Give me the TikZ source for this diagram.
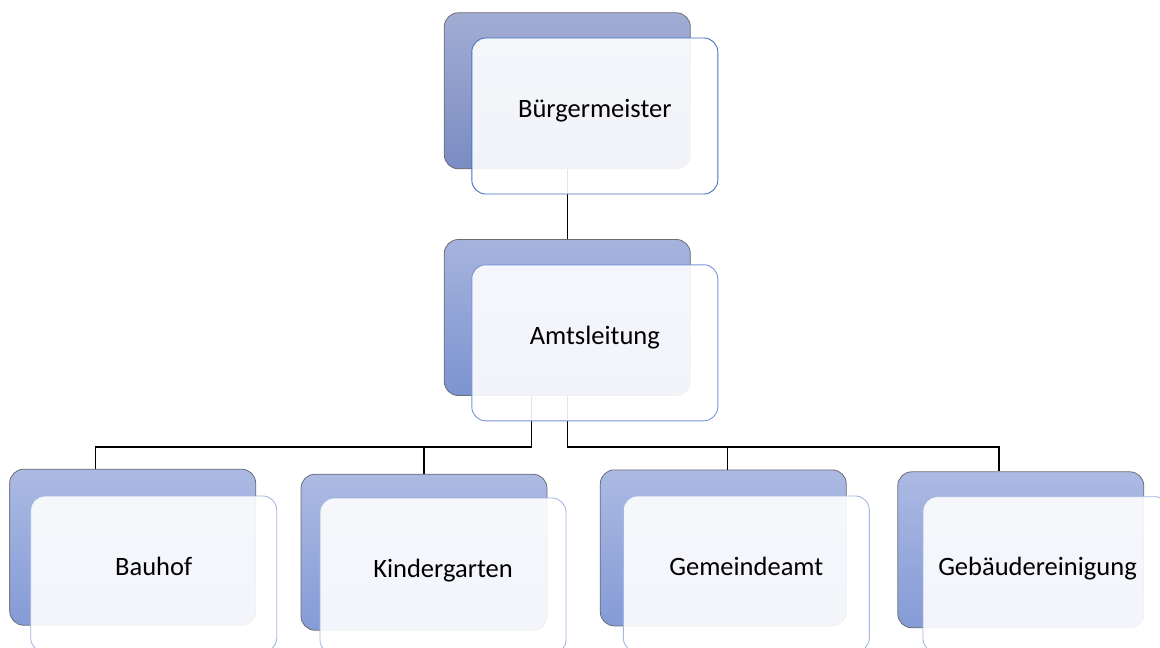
\documentclass[tikz,border=0pt]{standalone}
\usepackage{fontspec}
\setmainfont{Carlito}
\begin{document}
\begin{tikzpicture}[x=1pt, y=-1pt,
  backbox/.style={draw=backedge, line width=0.8pt, rounded corners=14pt, minimum width=246pt, minimum height=156pt, inner sep=0pt},
  frontbox/.style={draw=#1, line width=0.9pt, fill=white, fill opacity=0.9, text opacity=1, rounded corners=14pt, minimum width=246pt, minimum height=156pt, inner sep=0pt, font=\fontsize{26.5}{30}\selectfont, text height=0.75em, text depth=0.5em},
  link/.style={line width=1.2pt}]
\clip (0,0) rectangle (1160,648);
\definecolor{backedge}{HTML}{6B6D75}
\definecolor{bmtop}{HTML}{A2ADD4}
\definecolor{bmbot}{HTML}{7A8CC2}
\definecolor{altop}{HTML}{A6B3DD}
\definecolor{albot}{HTML}{7C94D0}
\definecolor{lvtop}{HTML}{ACBAE3}
\definecolor{lvbot}{HTML}{859BD6}
\definecolor{bmedge}{HTML}{4472C4}
\definecolor{aledge}{HTML}{7894D6}
\definecolor{lvedge}{HTML}{A4B6E2}
% shaded boxes at the back
\node[backbox, top color=bmtop, bottom color=bmbot] (bm-back) at (567.3, 90.8) {};
\node[backbox, top color=altop, bottom color=albot] (al-back) at (567.3, 317.5) {};
\node[backbox, top color=lvtop, bottom color=lvbot] (bh-back) at (132.7, 547.2) {};
\node[backbox, top color=lvtop, bottom color=lvbot] (kg-back) at (424, 552.2) {};
\node[backbox, top color=lvtop, bottom color=lvbot] (gd-back) at (723.3, 547.9) {};
\node[backbox, top color=lvtop, bottom color=lvbot] (gr-back) at (1020.8, 549.8) {};
% connectors
\coordinate (lbus) at (531.5, 447);
\coordinate (rbus) at (567.3, 447);
\draw[link] (bm-back.south) -- (al-back.north);
\draw[link] (al-back.south -| lbus) -- (lbus) -| ([xshift=-37pt]bh-back.north);
\draw[link] (lbus -| kg-back.north) -- (kg-back.north);
\draw[link] (al-back.south) -- (rbus) -| ([xshift=-21.8pt]gr-back.north);
\draw[link] ([xshift=4.4pt]gd-back.north) |- (rbus);
% light boxes in front
\node[frontbox=bmedge] (bm) at (594.8, 116) {Bürgermeister};
\node[frontbox=aledge] (al) at (594.8, 342.8) {Amtsleitung};
\node[frontbox=lvedge] (bh) at (153.7, 574) {Bauhof};
\node[frontbox=lvedge] (kg) at (443, 576) {Kindergarten};
\node[frontbox=lvedge] (gd) at (746.3, 574) {Gemeindeamt};
\node[frontbox=lvedge] (gr) at (1046, 574.7) {\hspace*{-17pt}Gebäudereinigung};
\end{tikzpicture}
\end{document}
